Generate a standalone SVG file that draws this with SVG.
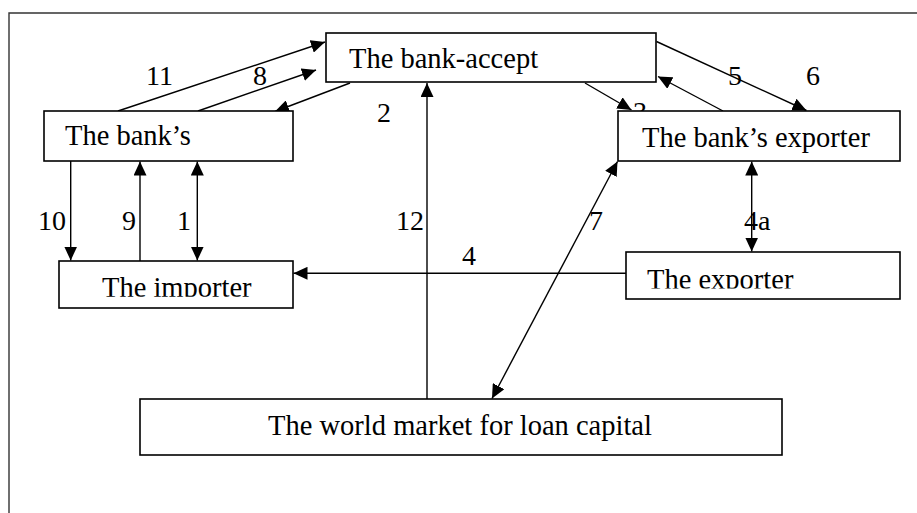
<svg xmlns="http://www.w3.org/2000/svg" width="917" height="513" viewBox="0 0 917 513">
<style>
.box{fill:#fff;stroke:#000;stroke-width:1.6}
.t{font-family:"Liberation Serif","Times New Roman",serif;font-size:28.5px;fill:#000}
.lb{font-family:"Liberation Serif","Times New Roman",serif;font-size:28px;fill:#000}
.c{stroke:#000;stroke-width:1.4;fill:none}
.a{marker-end:url(#ah)}
.d{marker-end:url(#ah);marker-start:url(#ah)}
</style>
<defs>
<marker id="ah" viewBox="0 0 14 13" refX="14" refY="6.5" markerWidth="14" markerHeight="13" markerUnits="userSpaceOnUse" orient="auto-start-reverse">
<path d="M0,0 L14,6.5 L0,13 z" fill="#000"/>
</marker>
<clipPath id="clipImp"><rect x="59" y="261" width="234" height="35.7"/></clipPath>
<clipPath id="clipExp"><rect x="626" y="252" width="274" height="36.5"/></clipPath>
</defs>
<path d="M9,513 V13 H917" fill="none" stroke="#333" stroke-width="1.4"/>
<g id="connectors">
<line class="c a" x1="118" y1="111" x2="325" y2="42"/>
<line class="c a" x1="198" y1="111" x2="316" y2="70"/>
<line class="c a" x1="350" y1="83" x2="275" y2="111.5"/>
<line class="c a" x1="585" y1="83" x2="631.5" y2="110"/>
<line class="c a" x1="723" y1="111" x2="658" y2="76.5"/>
<line class="c a" x1="656.5" y1="41.5" x2="806.5" y2="110.5"/>
<line class="c a" x1="427" y1="399" x2="427" y2="83"/>
<line class="c a" x1="70.7" y1="161" x2="70.7" y2="260.5"/>
<line class="c a" x1="140" y1="261" x2="140" y2="161.5"/>
<line class="c d" x1="197.3" y1="161.5" x2="197.3" y2="260.5"/>
<line class="c a" x1="626" y1="273.3" x2="293.5" y2="273.3"/>
<line class="c d" x1="617.5" y1="161.5" x2="492" y2="398.5"/>
<line class="c d" x1="751.7" y1="161.5" x2="751.7" y2="251.5"/>
<text class="lb" x="146" y="85">11</text>
<text class="lb" x="253" y="85">8</text>
<text class="lb" x="377" y="122">2</text>
<text class="lb" x="633" y="121">3</text>
<text class="lb" x="728" y="85">5</text>
<text class="lb" x="806" y="85">6</text>
<text class="lb" x="396" y="230">12</text>
<text class="lb" x="38" y="230">10</text>
<text class="lb" x="122" y="230">9</text>
<text class="lb" x="177" y="230">1</text>
<text class="lb" x="589" y="230">7</text>
<text class="lb" x="462" y="265">4</text>
<text class="lb" x="744" y="230">4a</text>
</g>
<g id="bank-accept">
<rect class="box" x="326" y="33" width="330" height="49"/>
<text class="t" x="349" y="68">The bank-accept</text>
</g>
<g id="banks">
<rect class="box" x="44" y="111" width="249" height="50"/>
<text class="t" x="65" y="145">The bank’s</text>
</g>
<g id="banks-exporter">
<rect class="box" x="618" y="111" width="282" height="50"/>
<text class="t" x="642" y="146.5">The bank’s exporter</text>
</g>
<g id="importer">
<rect class="box" x="59" y="261" width="234" height="47"/>
<text class="t" x="102" y="297" clip-path="url(#clipImp)">The importer</text>
</g>
<g id="exporter">
<rect class="box" x="626" y="252" width="274" height="47"/>
<text class="t" x="647" y="289" clip-path="url(#clipExp)">The exporter</text>
</g>
<g id="world-market">
<rect class="box" x="140" y="399" width="642" height="56"/>
<text class="t" x="460" y="435" text-anchor="middle">The world market for loan capital</text>
</g>
</svg>
